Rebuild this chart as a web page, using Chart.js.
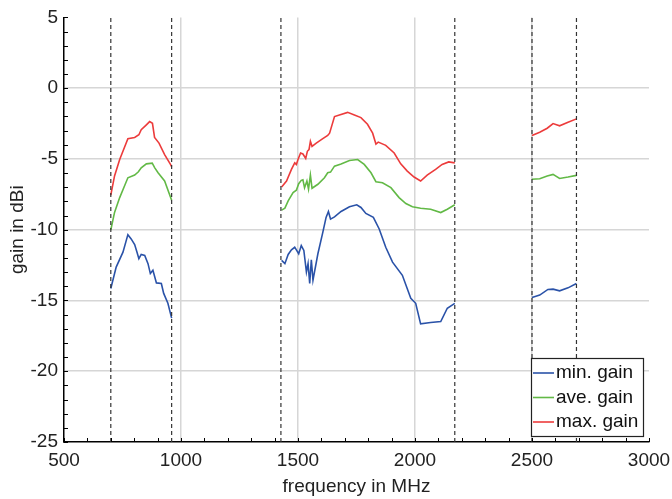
<!DOCTYPE html>
<html>
<head>
<meta charset="utf-8">
<script src="https://cdn.jsdelivr.net/npm/chart.js@4.4.1/dist/chart.umd.min.js"></script>
<style>
  html, body { margin: 0; padding: 0; background: #fff; }
  #wrap { width: 672px; height: 499px; }
</style>
</head>
<body>
<div id="wrap"><canvas id="myChart" width="672" height="499"></canvas></div>
<script>
// band edges (dashed lines), MHz
const bandEdges = [700, 960, 1427, 2170, 2500, 2690];

// null gain = gap between the bands
const minFreq = [700, 723, 752, 773, 787, 802, 812, 820, 830, 845, 859, 869, 880, 895, 916, 926, 944, 960,
  1200,
  1430, 1444, 1458, 1472, 1486, 1493, 1503, 1514, 1525, 1536, 1543, 1550, 1557, 1564, 1585, 1606, 1620, 1630, 1639, 1656,
  1684, 1720, 1751, 1769, 1790, 1822, 1847, 1875, 1904, 1946, 1982, 2003, 2024, 2067, 2110, 2138, 2170,
  2300,
  2500, 2533, 2568, 2590, 2618, 2654, 2690];
const minGain = [-14.15, -12.64, -11.59, -10.35, -10.65, -11.05, -11.59, -12.05, -11.75, -11.82, -12.40, -13.10, -12.87, -13.76, -13.80, -14.50, -15.20, -16.25,
  null,
  -12.17, -12.40, -11.75, -11.42, -11.24, -11.42, -11.70, -11.12, -11.47, -12.99, -12.40, -13.80, -12.12, -13.57, -11.70, -10.19, -9.13, -8.71, -9.25, -9.09,
  -8.71, -8.38, -8.24, -8.43, -8.85, -9.13, -9.95, -11.24, -12.29, -13.22, -14.85, -15.20, -16.65, -16.56, -16.49, -15.55, -15.20,
  null,
  -14.79, -14.62, -14.22, -14.20, -14.32, -14.11, -13.80];

const aveFreq = [700, 716, 738, 773, 802, 818, 830, 852, 877, 888, 902, 930, 960,
  1200,
  1430, 1444, 1458, 1479, 1493, 1503, 1514, 1521, 1528, 1538, 1545, 1553, 1560, 1585, 1613, 1627, 1639,
  1656, 1684, 1720, 1755, 1783, 1812, 1833, 1861, 1897, 1932, 1961, 1989, 2024, 2067, 2110, 2138, 2170,
  2300,
  2500, 2533, 2565, 2590, 2618, 2654, 2690];
const aveGain = [-10.02, -8.78, -7.73, -6.33, -6.14, -5.91, -5.63, -5.35, -5.30, -5.63, -5.98, -6.56, -7.92,
  null,
  -8.62, -8.48, -7.96, -7.38, -7.21, -6.75, -6.51, -6.47, -7.03, -6.56, -7.14, -6.14, -7.07, -6.79, -6.33, -5.98, -5.93,
  -5.51, -5.35, -5.11, -5.04, -5.39, -5.98, -6.61, -6.68, -7.03, -7.73, -8.15, -8.38, -8.48, -8.55, -8.79, -8.55, -8.24,
  null,
  -6.44, -6.40, -6.21, -6.09, -6.38, -6.28, -6.16];

const maxFreq = [700, 716, 738, 773, 802, 820, 830, 852, 866, 878, 887, 906, 930, 955, 960,
  1200,
  1430, 1451, 1472, 1486, 1493, 1500, 1511, 1521, 1533, 1540, 1547, 1553, 1560, 1578, 1606, 1627, 1635, 1656, 1677,
  1712, 1741, 1769, 1797, 1819, 1833, 1843, 1875, 1911, 1939, 1967, 1996, 2024, 2052, 2088, 2116, 2144, 2170,
  2300,
  2500, 2533, 2565, 2590, 2618, 2654, 2690];
const maxGain = [-7.56, -6.20, -5.04, -3.57, -3.48, -3.29, -2.94, -2.59, -2.36, -2.48, -3.48, -3.88, -4.69, -5.39, -5.55,
  null,
  -6.98, -6.56, -5.74, -5.28, -5.39, -5.04, -4.58, -4.65, -4.97, -4.46, -4.34, -3.76, -4.11, -3.88, -3.57, -3.34, -3.18, -2.01, -1.89,
  -1.71, -1.89, -2.08, -2.55, -3.18, -3.95, -3.81, -4.04, -4.58, -5.35, -5.86, -6.28, -6.56, -6.14, -5.74, -5.39, -5.21, -5.28,
  null,
  -3.34, -3.11, -2.83, -2.50, -2.66, -2.41, -2.17];

const seriesNames = ["min. gain", "ave. gain", "max. gain"];
const seriesColors = ["#2a52a8", "#62b946", "#ec3b3b"];

const FONT = "'Liberation Sans', Arial, Helvetica, sans-serif";

function toPoints(xs, ys) {
  return xs.map((x, i) => ({ x: x, y: ys[i] }));
}

const lineSets = [
  [minFreq, minGain],
  [aveFreq, aveGain],
  [maxFreq, maxGain],
].map((s, i) => ({
  label: seriesNames[i],
  data: toPoints(s[0], s[1]),
  borderColor: seriesColors[i],
  backgroundColor: seriesColors[i],
  borderWidth: 1.6,
  pointRadius: 0,
  spanGaps: false,
  tension: 0,
}));

const edgeSets = bandEdges.map((f) => ({
  label: "edge",
  data: [{ x: f, y: -25 }, { x: f, y: 5 }],
  borderColor: "#333",
  borderWidth: 1.2,
  borderDash: [4, 3],
  pointRadius: 0,
}));

// small inward ticks like the original plot
const innerTicks = {
  id: "innerTicks",
  afterDraw(chart) {
    const { ctx, chartArea, scales } = chart;
    ctx.save();
    ctx.strokeStyle = "#000";
    ctx.lineWidth = 1;
    for (let v = -25; v <= 5; v++) {
      const y = Math.round(scales.y.getPixelForValue(v)) + 0.5;
      ctx.beginPath();
      ctx.moveTo(chartArea.left, y);
      ctx.lineTo(chartArea.left + 4, y);
      ctx.stroke();
    }
    for (let f = 500; f <= 3000; f += 100) {
      const x = Math.round(scales.x.getPixelForValue(f)) + 0.5;
      ctx.beginPath();
      ctx.moveTo(x, chartArea.bottom);
      ctx.lineTo(x, chartArea.bottom - 4);
      ctx.stroke();
    }
    ctx.restore();
  },
};

// legend box in the lower right corner of the plot
const boxLegend = {
  id: "boxLegend",
  afterDraw(chart) {
    const { ctx, chartArea } = chart;
    const w = 112, h = 78;
    const x0 = chartArea.right - 6 - w;
    const y0 = chartArea.bottom - 6 - h;
    ctx.save();
    ctx.fillStyle = "#fff";
    ctx.fillRect(x0, y0, w, h);
    ctx.strokeStyle = "#222";
    ctx.lineWidth = 1.2;
    ctx.strokeRect(x0 + 0.5, y0 + 0.5, w, h);
    ctx.font = "19px " + FONT;
    ctx.textBaseline = "middle";
    ctx.fillStyle = "#111";
    for (let i = 0; i < 3; i++) {
      const y = y0 + 15 + i * 24.5;
      ctx.strokeStyle = seriesColors[i];
      ctx.lineWidth = 1.6;
      ctx.beginPath();
      ctx.moveTo(x0 + 2, y);
      ctx.lineTo(x0 + 23, y);
      ctx.stroke();
      ctx.fillText(seriesNames[i], x0 + 25, y);
    }
    ctx.restore();
  },
};

const ctx = document.getElementById("myChart");
const myChart = new Chart(ctx, {
  type: "line",
  data: { datasets: [...edgeSets, ...lineSets] },
  options: {
    responsive: false,
    animation: false,
    devicePixelRatio: 1,
    layout: { padding: { top: 15, right: 23, left: 0, bottom: 0 } },
    plugins: { legend: { display: false }, tooltip: { enabled: false } },
    scales: {
      x: {
        type: "linear",
        min: 500,
        max: 3000,
        afterFit: (s) => { s.height = 57; s.paddingRight = 0; },
        ticks: { stepSize: 500, padding: 7, color: "#222", font: { family: FONT, size: 19 }, callback: (v) => String(v) },
        grid: {
          drawTicks: false,
          lineWidth: 1.5,
          color: (c) => (c.tick && (c.tick.value === 500 || c.tick.value === 3000) ? "rgba(0,0,0,0)" : "#d6d6d6"),
        },
        border: { color: "#000", width: 1.5 },
        title: { display: true, text: "frequency in MHz", color: "#222", padding: { top: 0, bottom: 1 }, font: { family: FONT, size: 19 } },
      },
      y: {
        min: -25,
        max: 5,
        afterFit: (s) => { s.width = 64; },
        ticks: { stepSize: 5, padding: 6, color: "#222", font: { family: FONT, size: 19 }, callback: (v) => String(v) },
        grid: {
          drawTicks: false,
          lineWidth: 1.5,
          color: (c) => (c.tick && (c.tick.value === 5 || c.tick.value === -25) ? "rgba(0,0,0,0)" : "#d6d6d6"),
        },
        border: { color: "#000", width: 1.5 },
        title: { display: true, text: "gain in dBi", color: "#222", padding: { top: 6, bottom: 0 }, font: { family: FONT, size: 19 } },
      },
    },
  },
  plugins: [innerTicks, boxLegend],
});
</script>
</body>
</html>
